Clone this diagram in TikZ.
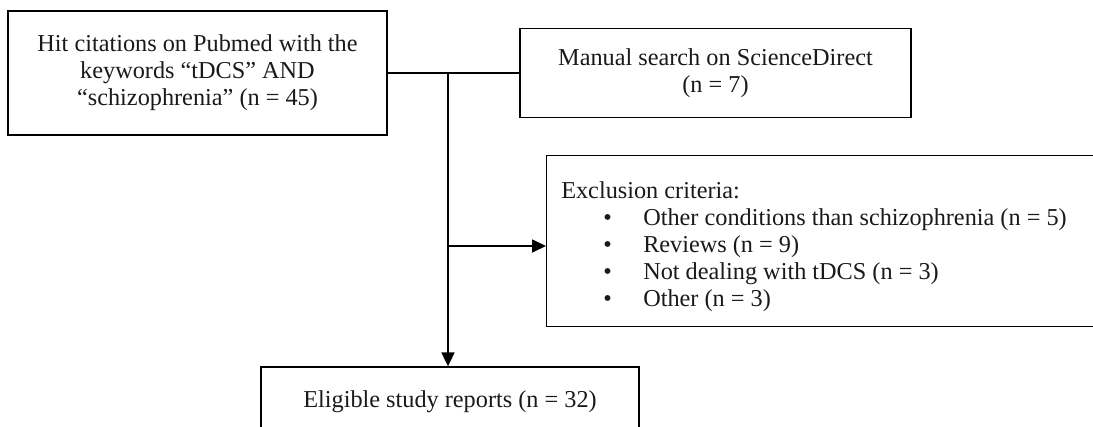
\documentclass[tikz,border=0pt]{standalone}
\usepackage{fontspec}
\setmainfont{Liberation Serif}
\usetikzlibrary{arrows.meta,positioning}
\definecolor{Ink}{HTML}{000000}
\definecolor{Type}{HTML}{1A1A1A}
\tikzset{
  >={Triangle[length=10.5pt,width=9.75pt]},
  box/.style={rectangle,draw=Ink,line width=1pt,fill=white,inner sep=0pt,align=center,text=Type,
    font=\fontsize{18.2}{20.25}\selectfont},
  txt/.style={inner sep=0pt,text=Type,font=\fontsize{18.2}{20.25}\selectfont},
  link/.style={line width=1pt,draw=Ink},
  flow/.style={->,line width=1.3pt,draw=Ink}
}
\begin{document}
\begin{tikzpicture}[x=0.75pt,y=-0.75pt]
        \useasboundingbox (0,0) rectangle (1093,426);
        \clip (0,0) rectangle (1093,426);
        \node[box,minimum width=284.25pt,minimum height=93pt] (hits) at (197.5,73)
          {Hit citations on Pubmed with the\\ keywords ``tDCS'' AND\\ ``schizophrenia'' (n = 45)};
        \node[box,minimum width=293.25pt,minimum height=66.75pt] (manual) at (715.5,73)
          {Manual search on ScienceDirect\\ (n = 7)};
        \node[box,anchor=north west,minimum width=423pt,minimum height=128.25pt] (excl) at (546,155) {};
        \node[box,minimum width=283.5pt,minimum height=52.5pt] (elig) at (450,402)
          {Eligible study reports (n = 32)};
        % exclusion list
        \node[txt,anchor=base west] (crit) at (561,198) {Exclusion criteria:};
        \foreach \item [count=\i] in {Other conditions than schizophrenia (n = 5),
            Reviews (n = 9), Not dealing with tDCS (n = 3), Other (n = 3)} {
          \node[txt,anchor=base west] (dot\i) at (603,198+27*\i) {\textbullet};
          \node[txt,anchor=base west] (crit\i) at (643,198+27*\i) {\item};
        }
        % connectors
        \coordinate (join) at (448,73);
        \coordinate (split) at (448,246);
        \draw[link] (hits.east)--(manual.west);
        \draw[flow] (join)--(join |- elig.north);
        \draw[flow] (split)--(split -| excl.west);
      \end{tikzpicture}
\end{document}
